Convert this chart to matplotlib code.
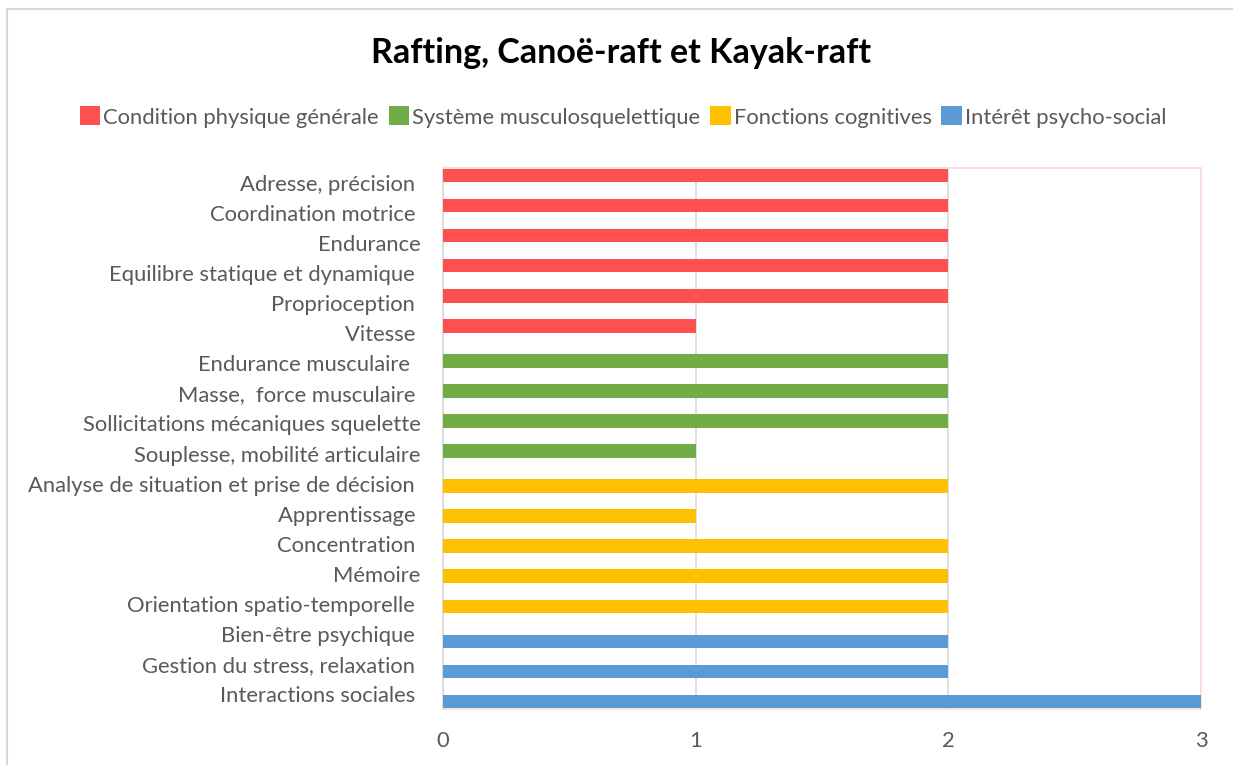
import numpy as np
import matplotlib.pyplot as plt
from matplotlib.patches import Patch, Rectangle

plt.rcParams['font.family'] = ['Lato', 'DejaVu Sans']

title = "Rafting, Canoë-raft et Kayak-raft"

series_names = ["Condition physique générale", "Système musculosquelettique",
                "Fonctions cognitives", "Intérêt psycho-social"]
series_colors = ["#FF5050", "#70AD47", "#FFC000", "#5B9BD5"]

# categories, top to bottom, grouped by series
red_labels = ["Adresse, précision ", "Coordination motrice ", "Endurance",
              "Equilibre statique et dynamique ", "Proprioception ", "Vitesse "]
red_values = [2, 2, 2, 2, 2, 1]

green_labels = ["Endurance musculaire  ", "Masse,  force musculaire ",
                "Sollicitations mécaniques squelette", "Souplesse, mobilité articulaire"]
green_values = [2, 2, 2, 1]

yellow_labels = ["Analyse de situation et prise de décision ", "Apprentissage ",
                 "Concentration ", "Mémoire", "Orientation spatio-temporelle "]
yellow_values = [2, 1, 2, 2, 2]

blue_labels = ["Bien-être psychique ", "Gestion du stress, relaxation ",
               "Interactions sociales "]
blue_values = [2, 2, 3]

groups = [(red_labels, red_values), (green_labels, green_values),
          (yellow_labels, yellow_values), (blue_labels, blue_values)]

fig = plt.figure(figsize=(12.33, 7.65), dpi=100)
ax = fig.add_axes([443 / 1233, 1 - 709 / 765, (1201 - 443) / 1233, (709 - 168) / 765])

all_labels = []
pos = 0
for k, (labels, values) in enumerate(groups):
    y = np.arange(pos, pos + len(labels))
    # clustered-bar offset per series
    offset = (k - 1.5) * 0.166
    ax.barh(y + offset, values, height=0.45, color=series_colors[k], zorder=3)
    all_labels += labels
    pos += len(labels)

n = len(all_labels)
ax.set_yticks(np.arange(n))
ax.set_yticklabels(all_labels, fontsize=15.8, color="#595959")
ax.set_ylim(n - 0.5, -0.5)

ax.set_xlim(0, 3)
ax.set_xticks([0, 1, 2, 3])
ax.tick_params(axis='x', length=0, pad=16, labelsize=15.8, labelcolor="#595959")
ax.tick_params(axis='y', length=0, pad=16)
ax.grid(axis='x', color="#D9D9D9", linewidth=1.2, zorder=0)

for side in ['top', 'right', 'bottom']:
    ax.spines[side].set_color("#FFD9D9")
    ax.spines[side].set_linewidth(1.2)
ax.spines['left'].set_color("#D9D9D9")
ax.spines['left'].set_linewidth(1.2)

fig.text(621 / 1233, 1 - 53 / 765, title, ha='center', va='center',
         fontsize=24.5, fontweight='bold', color="black")

handles = [Patch(facecolor=c, edgecolor='none') for c in series_colors]
leg = fig.legend(handles, series_names, loc='center', ncol=4,
                 bbox_to_anchor=(623 / 1233, 1 - 117 / 765), frameon=False,
                 fontsize=15.8, handlelength=0.95, handleheight=0.95,
                 handletextpad=0.12, columnspacing=0.45)
for t in leg.get_texts():
    t.set_color("#595959")

# outer chart border
fig.add_artist(Rectangle((7 / 1233, -0.1), 1.2, 1 - 9 / 765 + 0.1,
                         transform=fig.transFigure, fill=False,
                         edgecolor="#D9D9D9", linewidth=1.5))

fig.savefig("out.png", dpi=100)
